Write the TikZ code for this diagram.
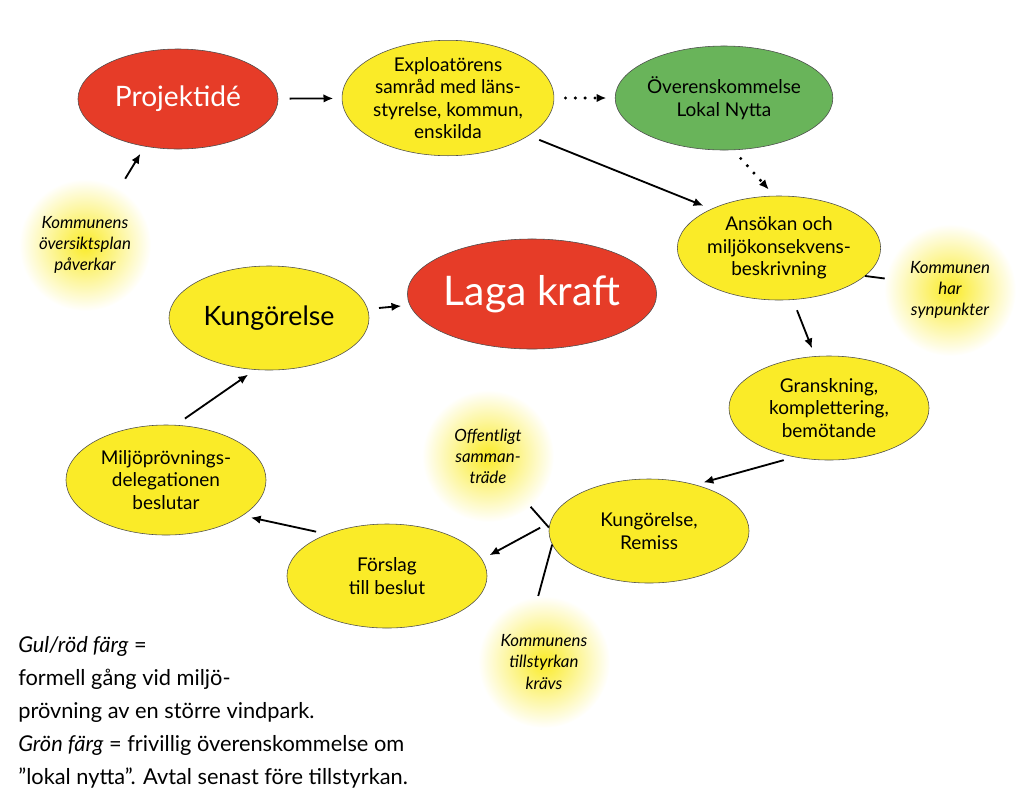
\documentclass[tikz,border=0pt]{standalone}
\usepackage{fontspec}
\setmainfont{Lato}
\usetikzlibrary{shapes.geometric, arrows.meta, positioning}
\definecolor{gulfarg}{RGB}{250,235,40}
\definecolor{rodfarg}{RGB}{230,60,40}
\definecolor{gronfarg}{RGB}{105,180,90}
\tikzset{
  steg/.style={ellipse, draw=black!70, fill=gulfarg, minimum width=5cm, minimum height=2.6cm, align=center, font=\fontsize{13.5}{16}\selectfont, inner sep=0pt},
  rodsteg/.style={steg, fill=rodfarg},
  gronsteg/.style={steg, fill=gronfarg},
  glod/.style={circle, minimum size=3.3cm, inner color=gulfarg, outer color=white, align=center, font=\fontsize{12}{15}\selectfont\itshape, inner sep=0pt},
  pil/.style={-{Latex[length=7pt,width=6pt]}, line width=1.3pt, shorten <=8pt, shorten >=6pt},
  prick/.style={pil, line width=2.4pt, line cap=round, dash pattern=on 0pt off 7pt},
  streck/.style={line width=1.3pt}
}
\begin{document}
\begin{tikzpicture}[x=0.025cm, y=-0.025cm]
\useasboundingbox (0,0) rectangle (1024,811);
% glow circles
\node[glod] (oversikt) at (85,245) {Kommunens\\översiktsplan\\påverkar};
\node[glod] (synp) at (950,290) {Kommunen\\har\\synpunkter};
\node[glod] (offentl) at (488,456) {Offentligt\\samman-\\träde};
\node[glod] (tillst) at (544,662) {Kommunens\\tillstyrkan\\krävs};
% steps
\node[rodsteg, text=white, font=\fontsize{20}{24}\selectfont, minimum height=2.5cm] (ide) at (178,99) {Projektidé};
\node[steg, minimum height=2.75cm] (samrad) at (448,98) {Exploatörens\\samråd med läns-\\styrelse, kommun,\\enskilda};
\node[gronsteg] (nytta) at (724,98) {Överenskommelse\\Lokal Nytta};
\node[steg, minimum width=4.75cm] (ansokan) at (779,248) {Ansökan och\\miljökonsekvens-\\beskrivning};
\node[steg] (gransk) at (829,408) {Granskning,\\komplettering,\\bemötande};
\node[steg] (remiss) at (649,531) {Kungörelse,\\Remiss};
\node[steg] (forslag) at (387,576) {Förslag\\till beslut};
\node[steg, minimum height=2.75cm] (delegation) at (166,480) {Miljöprövnings-\\delegationen\\beslutar};
\node[steg, font=\fontsize{19}{22}\selectfont] (kungorelse) at (269,318) {Kungörelse};
\node[rodsteg, text=white, font=\fontsize{29}{32}\selectfont, minimum height=2.75cm] (laga) at (532,294) {Laga kraft};
% connectors
\draw[pil] (ide) -- (samrad);
\draw[prick] (samrad) -- (nytta);
\draw[pil] (samrad.-25) -- (ansokan.150);
\draw[prick] (nytta.-80) -- (ansokan.95);
\draw[pil] (ansokan.-75) -- (gransk.105);
\draw[pil] (gransk.-125) -- (remiss.45);
\draw[pil] (remiss.175) -- (forslag.10);
\draw[pil] (forslag.145) -- (delegation.-25);
\draw[pil] (delegation.80) -- (kungorelse.-105);
\draw[pil] (kungorelse) -- (laga);
\draw[pil] (oversikt) -- (ide.-125);
\draw[streck] (synp.170) -- (ansokan.-18);
\draw[streck] (offentl.-50) -- (remiss.178);
\draw[streck] (tillst.95) -- (remiss.-172);
% legend
\node[anchor=north west, align=left, font=\fontsize{15.5}{23.5}\selectfont, inner sep=0pt] (legend) at (18,636)
 {\textit{Gul/röd färg} =\\formell gång vid miljö-\\prövning av en större vindpark.\\\textit{Grön färg} = frivillig överenskommelse om\\”lokal nytta”. Avtal senast före tillstyrkan.};
\end{tikzpicture}
\end{document}
